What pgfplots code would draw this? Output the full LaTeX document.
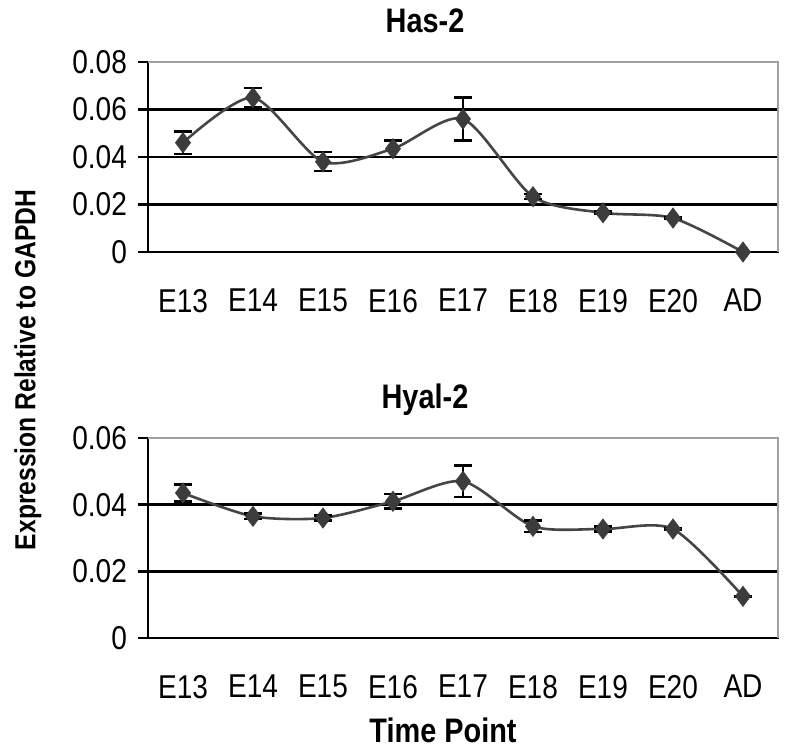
\documentclass[border=0pt]{standalone}
\usepackage{fontspec}
\setmainfont{Liberation Sans}[FakeStretch=0.85]
\usepackage{pgfplots}
\pgfplotsset{compat=1.18}
\definecolor{lineg}{HTML}{454545}
\definecolor{markg}{HTML}{3C3C3C}
\definecolor{frameg}{HTML}{A0A0A0}

\pgfplotsset{
  myaxis/.style={
    scale only axis,
    width=315pt,
    xmin=-0.5, xmax=8.5,
    xtick={0,1,2,3,4,5,6,7,8},
    xticklabels={E13,E14,E15,E16,E17,E18,E19,E20,AD},
    minor xtick={-0.5,0.5,1.5,2.5,3.5,4.5,5.5,6.5,7.5,8.5},
    xtick style={draw=none},
    minor tick length=5pt,
    major tick length=5pt,
    tick align=outside,
    tick pos=left,
    axis line style={black, line width=1.3pt},
    every tick/.style={black, line width=1.2pt},
    minor tick style={black, line width=1.2pt},
    ymajorgrids=true,
    major grid style={black, line width=1.3pt},
    scaled y ticks=false,
    /pgf/number format/assume math mode=true,
    yticklabel style={/pgf/number format/fixed, /pgf/number format/precision=2, font=\fontsize{16.5}{18}\selectfont, xshift=-2pt},
    xticklabel style={font=\fontsize{16.5}{18}\selectfont, yshift=-10pt},
    title style={font=\bfseries\fontsize{17}{19}\selectfont, at={(0.5,1)}, anchor=base, yshift=8.5pt, xshift=-19pt},
    clip=false,
    after end axis/.code={
      \draw[frameg, line width=1.3pt] (rel axis cs:0,1) -- (rel axis cs:1,1) -- (rel axis cs:1,0);
    },
  },
  myplot/.style={
    smooth, tension=0.45,
    color=lineg, line width=1.3pt,
    mark=diamond*, mark size=5pt,
    mark options={fill=markg, draw=markg, line width=0.4pt},
    error bars/.cd, y dir=both, y explicit,
    error bar style={black, line width=1.2pt},
    error mark options={black, rotate=90, mark size=4.5pt, line width=1.2pt},
  },
}

\begin{document}
\begin{tikzpicture}
\useasboundingbox (0,0) rectangle (400pt,377pt);

\begin{axis}[myaxis,
  at={(74pt,251pt)}, anchor=south west,
  height=95pt,
  ymin=0, ymax=0.08,
  ytick={0,0.02,0.04,0.06,0.08},
  title={Has-2},
]
\addplot+[myplot] table[x=x, y=y, y error=e] {
x y e
0 0.0460 0.0047
1 0.0650 0.0040
2 0.0380 0.0040
3 0.0435 0.0035
4 0.0560 0.0090
5 0.0233 0.0010
6 0.0165 0.0005
7 0.0143 0.0003
8 0.0000 0.0000
};
\end{axis}

\begin{axis}[myaxis,
  at={(74pt,58pt)}, anchor=south west,
  height=100pt,
  ymin=0, ymax=0.06,
  ytick={0,0.02,0.04,0.06},
  title={Hyal-2},
  xlabel={Time Point},
  xlabel style={font=\bfseries\fontsize{17}{19}\selectfont, xshift=-10pt, yshift=-3pt},
]
\addplot+[myplot] table[x=x, y=y, y error=e] {
x y e
0 0.0435 0.0025
1 0.0365 0.0008
2 0.0360 0.0008
3 0.0410 0.0022
4 0.0470 0.0047
5 0.0335 0.0017
6 0.0327 0.0008
7 0.0327 0.0003
8 0.0125 0.0000
};
\end{axis}

\node[rotate=90, font=\bfseries\fontsize{14.5}{16}\selectfont] at (14pt,192pt) {Expression Relative to GAPDH};
\end{tikzpicture}
\end{document}
